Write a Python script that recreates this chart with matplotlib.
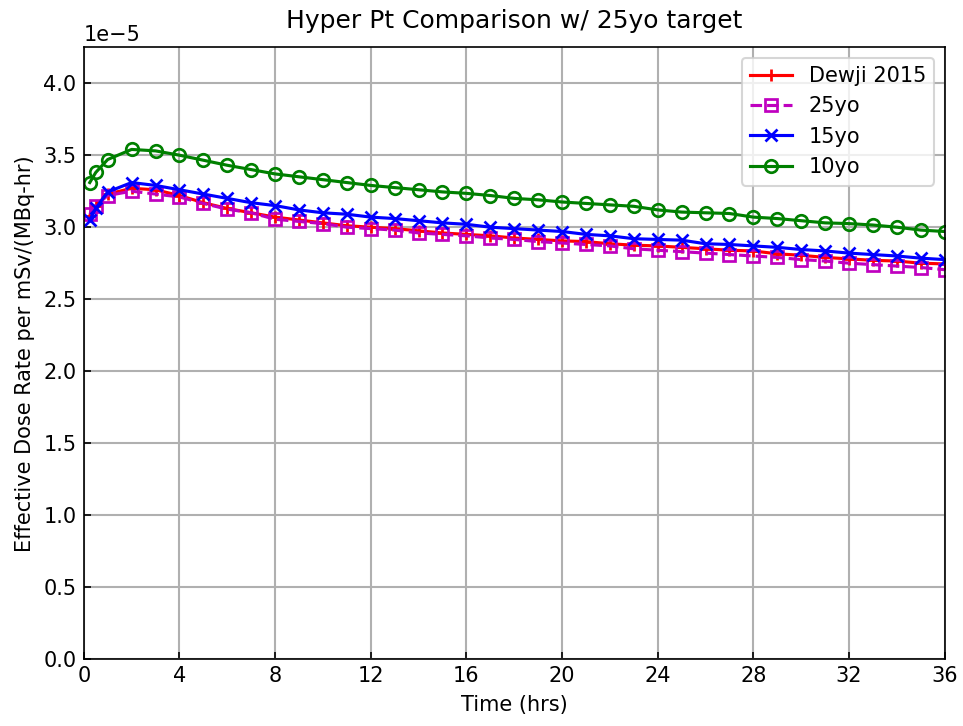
import matplotlib
matplotlib.use("Agg")
import matplotlib.pyplot as plt
import numpy as np

# time points (hrs)
t = [0.25, 0.5, 1] + list(range(2, 37))

# effective dose rate, units of 1e-5 mSv/(MBq-hr)
dewji = [3.08, 3.15, 3.23, 3.27, 3.26, 3.22, 3.17, 3.13, 3.10, 3.07, 3.05, 3.03, 3.01,
         3.00, 2.99, 2.975, 2.96, 2.95, 2.94, 2.925, 2.915, 2.905,
         2.90, 2.885, 2.875, 2.87, 2.86, 2.85, 2.84, 2.835,
         2.815, 2.805, 2.79, 2.78, 2.77, 2.765, 2.75, 2.745]
y25 = [3.09, 3.15, 3.22, 3.25, 3.23, 3.21, 3.165, 3.125, 3.10, 3.055, 3.04, 3.025, 3.00,
       2.99, 2.98, 2.96, 2.95, 2.94, 2.925, 2.915, 2.90, 2.89,
       2.88, 2.87, 2.85, 2.84, 2.83, 2.82, 2.81, 2.80,
       2.79, 2.775, 2.765, 2.75, 2.74, 2.73, 2.72, 2.705]
y15 = [3.05, 3.13, 3.245, 3.31, 3.29, 3.26, 3.23, 3.20, 3.17, 3.15, 3.12, 3.10, 3.09,
       3.07, 3.06, 3.045, 3.03, 3.02, 3.00, 2.99, 2.98, 2.97,
       2.95, 2.94, 2.92, 2.915, 2.91, 2.885, 2.88, 2.87,
       2.86, 2.845, 2.835, 2.82, 2.81, 2.80, 2.785, 2.775]
y10 = [3.31, 3.38, 3.47, 3.54, 3.53, 3.50, 3.465, 3.43, 3.40, 3.37, 3.35, 3.33, 3.31,
       3.29, 3.275, 3.26, 3.245, 3.235, 3.22, 3.20, 3.19, 3.175,
       3.165, 3.155, 3.145, 3.12, 3.105, 3.10, 3.095, 3.07,
       3.06, 3.045, 3.03, 3.025, 3.015, 3.00, 2.98, 2.97]

scale = 1e-5

fig, ax = plt.subplots(figsize=(6.42, 4.84), dpi=150)
fig.subplots_adjust(left=0.087, right=0.981, top=0.935, bottom=0.092)

ax.plot(t, np.array(dewji) * scale, 'r-', marker='+', mew=1.3, label='Dewji 2015')
ax.plot(t, np.array(y25) * scale, 'm--', marker='s', mfc='none', mew=1.3, label='25yo')
ax.plot(t, np.array(y15) * scale, 'b-', marker='x', mew=1.3, label='15yo')
ax.plot(t, np.array(y10) * scale, 'g-', marker='o', mfc='none', mew=1.3, label='10yo')

ax.set_title("Hyper Pt Comparison w/ 25yo target", pad=9)
ax.set_xlabel("Time (hrs)")
ax.set_ylabel("Effective Dose Rate per mSv/(MBq-hr)")
ax.set_xlim(0, 36)
ax.set_ylim(0, 4.25e-5)
ax.set_xticks(range(0, 37, 4))
ax.tick_params(direction='in')
ax.grid(True, color='#b0b0b0', linewidth=1.0)
ax.legend(loc='upper right')

plt.savefig("out.png", dpi=150)
